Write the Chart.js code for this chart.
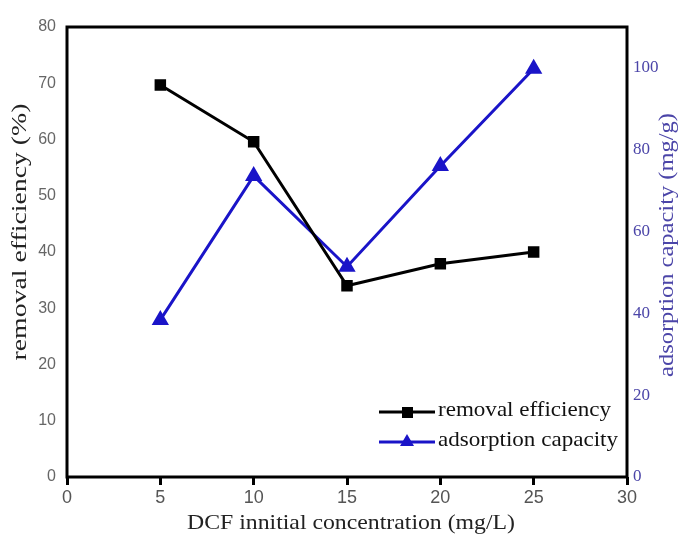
<!DOCTYPE html>
<html>
<head>
<meta charset="utf-8">
<script src="https://cdn.jsdelivr.net/npm/chart.js@4"></script>
<style>
  html, body { margin: 0; padding: 0; background: #fff; }
  #wrap { width: 683px; height: 536px; }
</style>
</head>
<body>
<div id="wrap"><canvas id="chart" width="683" height="536"></canvas></div>
<script>
const concentrations = [5, 10, 15, 20, 25];
const removalEfficiency = [69.7, 59.6, 34.0, 37.9, 40.0];
const adsorptionCapacity = [38.4, 73.6, 51.4, 76.0, 99.8];
const xTicks = [0, 5, 10, 15, 20, 25, 30];

const BLACK = "#000000";
const BLUE = "#1a14c8";
const RIGHT_TEXT = "#4b45a8";
const serif = "'Liberation Serif', 'Times New Roman', serif";
const sans = "'Liberation Sans', Arial, sans-serif";

// text stretched to the length it has in the picture
function stretchText(ctx, text, cx, cy, size, len, angle, color) {
  ctx.save();
  ctx.font = size + "px " + serif;
  ctx.fillStyle = color;
  ctx.textAlign = "center";
  ctx.textBaseline = "middle";
  ctx.translate(cx, cy);
  ctx.rotate(angle);
  ctx.scale(len / ctx.measureText(text).width, 1);
  ctx.fillText(text, 0, 0);
  ctx.restore();
}

// frame, axis titles and legend
const decorPlugin = {
  id: "decor",
  afterDraw(chart) {
    const ctx = chart.ctx;
    const a = chart.chartArea;
    ctx.save();
    ctx.strokeStyle = BLACK;
    ctx.lineWidth = 3;
    ctx.strokeRect(a.left, a.top, a.right - a.left, a.bottom - a.top);
    ctx.restore();

    stretchText(ctx, "DCF innitial concentration (mg/L)", 351, 523, 21, 328, 0, "#222");
    stretchText(ctx, "removal efficiency (%)", 21, 232, 20, 257, -Math.PI / 2, "#222");
    stretchText(ctx, "adsorption capacity (mg/g)", 668, 245, 20, 264, -Math.PI / 2, RIGHT_TEXT);

    // legend
    const items = [
      { label: "removal efficiency", color: BLACK, style: "rect", y: 412, len: 173 },
      { label: "adsorption capacity", color: BLUE, style: "triangle", y: 442, len: 180 }
    ];
    ctx.save();
    items.forEach(it => {
      ctx.strokeStyle = it.color;
      ctx.lineWidth = 3;
      ctx.beginPath();
      ctx.moveTo(379, it.y);
      ctx.lineTo(435, it.y);
      ctx.stroke();
      ctx.fillStyle = it.color;
      if (it.style === "rect") {
        ctx.fillRect(402, it.y - 5, 11, 11);
      } else {
        ctx.beginPath();
        ctx.moveTo(407, it.y - 8);
        ctx.lineTo(414, it.y + 4);
        ctx.lineTo(400, it.y + 4);
        ctx.closePath();
        ctx.fill();
      }
      stretchText(ctx, it.label, 438 + it.len / 2, it.y - 2, 21, it.len, 0, "#111");
    });
    ctx.restore();
  }
};

new Chart(document.getElementById("chart"), {
  type: "line",
  data: {
    datasets: [
      {
        label: "removal efficiency",
        data: concentrations.map((x, i) => ({ x: x, y: removalEfficiency[i] })),
        yAxisID: "y",
        borderColor: BLACK,
        backgroundColor: BLACK,
        borderWidth: 3,
        pointStyle: "rect",
        pointRadius: 6,
        pointHoverRadius: 6,
        tension: 0
      },
      {
        label: "adsorption capacity",
        data: concentrations.map((x, i) => ({ x: x, y: adsorptionCapacity[i] })),
        yAxisID: "y1",
        borderColor: BLUE,
        backgroundColor: BLUE,
        borderWidth: 3,
        pointStyle: "triangle",
        pointRadius: 7,
        pointHoverRadius: 7,
        tension: 0
      }
    ]
  },
  options: {
    responsive: false,
    animation: false,
    layout: { padding: { top: 27, left: 0, right: 0, bottom: 0 } },
    plugins: {
      legend: { display: false },
      tooltip: { enabled: false }
    },
    scales: {
      x: {
        type: "linear",
        min: 0,
        max: 30,
        afterBuildTicks(scale) {
          scale.ticks = xTicks.map(v => ({ value: v }));
        },
        afterFit(scale) { scale.height = 59; },
        border: { display: false },
        grid: {
          drawOnChartArea: false,
          drawTicks: true,
          tickLength: 8,
          color: BLACK,
          lineWidth: 3
        },
        ticks: {
          color: "#555",
          font: { family: sans, size: 18 },
          padding: 2,
          maxRotation: 0
        }
      },
      y: {
        position: "left",
        min: 0,
        max: 80,
        afterFit(scale) { scale.width = 67; },
        border: { display: false },
        grid: { display: false, drawTicks: false },
        ticks: {
          stepSize: 10,
          color: "#666",
          font: { family: sans, size: 16 },
          padding: 11
        }
      },
      y1: {
        position: "right",
        min: 0,
        max: 110,
        afterFit(scale) { scale.width = 56; },
        border: { display: false },
        grid: { display: false, drawTicks: false },
        ticks: {
          stepSize: 20,
          color: RIGHT_TEXT,
          font: { family: serif, size: 17 },
          padding: 6,
          callback: v => (v > 100 ? "" : v)
        }
      }
    }
  },
  plugins: [decorPlugin]
});
</script>
</body>
</html>
